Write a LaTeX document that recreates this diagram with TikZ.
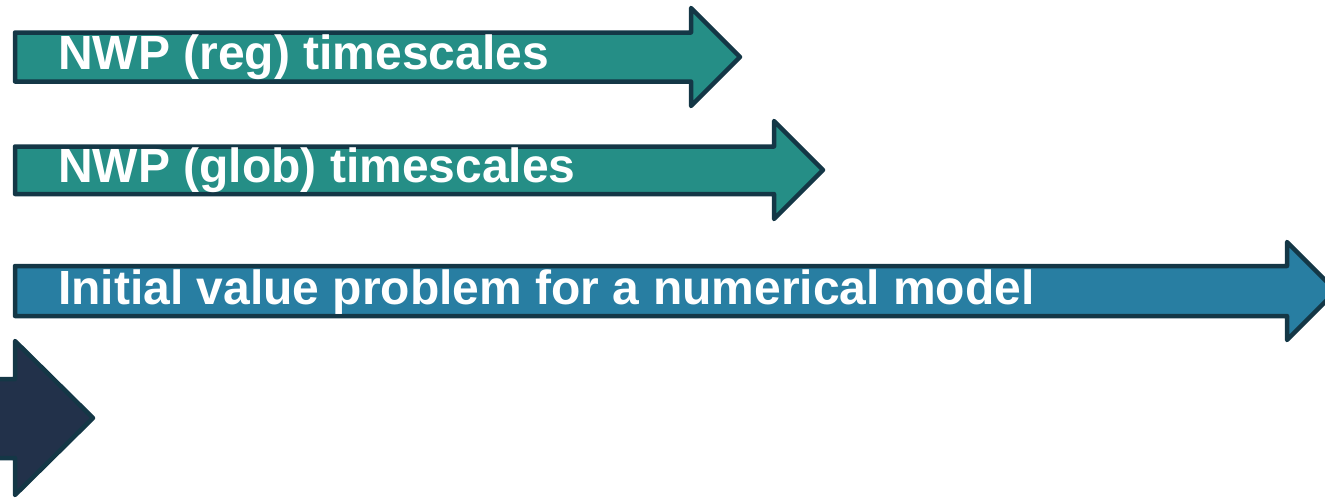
\documentclass[tikz,border=0pt]{standalone}
\usepackage{fontspec}
\setmainfont{Liberation Sans}
\usepackage{xcolor}
\usetikzlibrary{positioning, calc}

\definecolor{tealfill}{HTML}{258E86}
\definecolor{bluefill}{HTML}{287EA2}
\definecolor{darkfill}{HTML}{22314A}
\definecolor{edgecol}{HTML}{143746}

\begin{document}
\begin{tikzpicture}[
    x=1pt, y=-1pt,
    bigarrow/.style={draw=edgecol, line width=4.5pt, line join=round},
    label/.style={anchor=base west, inner sep=0pt, text=white, font=\fontsize{48}{52}\selectfont\bfseries}
]
    \useasboundingbox (0,0) rectangle (1325,499);
    \clip (0,0) rectangle (1325,499);

    % Arrows
    \draw[bigarrow, fill=tealfill] (15,32.5) -- (691,32.5) -- (691,8) -- (740,57) -- (691,106) -- (691,81.5) -- (15,81.5) -- cycle;
    \draw[bigarrow, fill=tealfill] (15,146.5) -- (774,146.5) -- (774,121) -- (823,170) -- (774,219) -- (774,194) -- (15,194) -- cycle;
    \draw[bigarrow, fill=bluefill] (15,266) -- (1287,266) -- (1287,242) -- (1336,291) -- (1287,340) -- (1287,316) -- (15,316) -- cycle;
    \draw[bigarrow, fill=darkfill] (-20,379) -- (15,379) -- (15,341) -- (93,418) -- (15,495) -- (15,458) -- (-20,458) -- cycle;

    % Labels
    \node[label] (reg) at (58,69) {NWP (reg) timescales};
    \node[label] (glob) at (58,182) {NWP (glob) timescales};
    \node[label] (ivp) at (58,304) {Initial value problem for a numerical model};
\end{tikzpicture}
\end{document}
